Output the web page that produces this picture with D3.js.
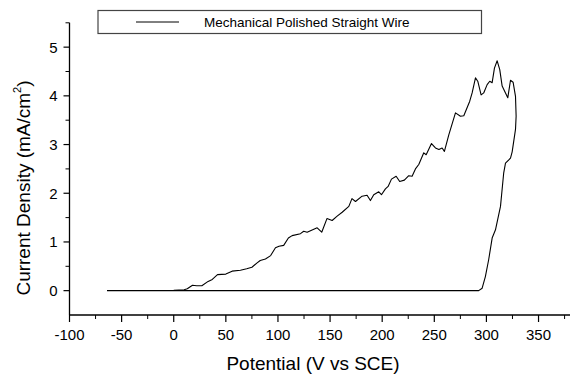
<!DOCTYPE html>
<html>
<head>
<meta charset="utf-8">
<script src="https://cdn.jsdelivr.net/npm/d3@7"></script>
<style>
    body { margin: 0; background: #fff; }
    text { font-family: "Liberation Sans", Arial, sans-serif; fill: #000; }
</style>
</head>
<body>
<svg id="chart" width="570" height="375"></svg>
<script>
// forward scan (rising current)
var forwardV = [-64, -20, 0, 10, 13, 18, 22, 27, 33, 37, 42, 50, 56, 64, 70, 75, 80, 83, 88, 93,
    97.6, 101, 105.5, 110, 113.6, 121.6, 124.7, 128, 137.6, 142, 147, 152, 156.8, 161.6, 168, 171,
    174.4, 180.7, 185.5, 188.7, 191.9, 196.7, 199.3, 203.1, 205.7, 208.9, 213.4, 216.8, 221.3,
    225.5, 228.7, 231.9, 235.1, 239.9, 242.2, 247.3, 251.1, 254.4, 257.5, 259.7, 263.9, 270.3,
    275.1, 278.3, 284, 286.3, 289.5, 291.7, 294.9, 297.4, 300.7, 303.2, 305.5, 307.7, 310.3,
    312.8, 315.1, 318.3, 320.5, 323.1, 325.6, 327.9, 328.5];
var forwardI = [0, 0, 0.005, 0.02, 0.04, 0.11, 0.1, 0.1, 0.19, 0.23, 0.33, 0.34, 0.4, 0.42, 0.45,
    0.48, 0.57, 0.62, 0.65, 0.72, 0.88, 0.91, 0.93, 1.08, 1.13, 1.17, 1.22, 1.2, 1.29, 1.2, 1.48,
    1.44, 1.53, 1.61, 1.73, 1.89, 1.83, 1.94, 1.96, 1.85, 1.97, 2.03, 1.97, 2.09, 2.14, 2.29, 2.35,
    2.24, 2.27, 2.36, 2.35, 2.5, 2.59, 2.83, 2.79, 3.02, 2.93, 2.9, 2.93, 2.86, 3.2, 3.65, 3.58,
    3.59, 3.89, 4.06, 4.37, 4.3, 4.02, 4.06, 4.23, 4.3, 4.27, 4.57, 4.72, 4.54, 4.2, 4.06, 3.96,
    4.32, 4.28, 3.99, 3.58];
// reverse scan back down
var reverseV = [327.9, 324.7, 323.1, 318.3, 316.6, 313.5, 308.7, 305.5, 302.2, 299, 295.9, 292.6, -64];
var reverseI = [3.31, 2.85, 2.72, 2.62, 2.42, 1.73, 1.25, 1.08, 0.64, 0.29, 0.05, 0, 0];

var xTicks = [-100, -50, 0, 50, 100, 150, 200, 250, 300, 350];
var yTicks = [0, 1, 2, 3, 4, 5];
var legendLabel = "Mechanical Polished Straight Wire";

var points = [];
for (var i = 0; i < forwardV.length; i++) points.push([forwardV[i], forwardI[i]]);
for (var j = 0; j < reverseV.length; j++) points.push([reverseV[j], reverseI[j]]);

var svg = d3.select("#chart");
var x = d3.scaleLinear().domain([-100, 380]).range([69.5, 569.8]);
var y = d3.scaleLinear().domain([-0.5, 5.5]).range([315, 22.8]);

// x axis
var xAxis = svg.append("g").attr("transform", "translate(0,315)");
xAxis.append("line").attr("x1", 69.5).attr("x2", 570).attr("stroke", "#000").attr("stroke-width", 1.3);
xAxis.selectAll(".minor").data(d3.range(-75, 380, 50)).enter().append("line")
    .attr("x1", x).attr("x2", x).attr("y1", 0).attr("y2", 4)
    .attr("stroke", "#000").attr("stroke-width", 1);
xAxis.selectAll(".major").data(xTicks).enter().append("line")
    .attr("x1", x).attr("x2", x).attr("y1", 0).attr("y2", 7)
    .attr("stroke", "#000").attr("stroke-width", 1.2);
xAxis.selectAll("text").data(xTicks).enter().append("text")
    .attr("x", x).attr("y", 25).attr("text-anchor", "middle")
    .style("font-size", "15px").text(function (d) { return d; });

// y axis
var yAxis = svg.append("g").attr("transform", "translate(69.5,0)");
yAxis.append("line").attr("y1", 22.8).attr("y2", 315).attr("stroke", "#000").attr("stroke-width", 1.3);
yAxis.selectAll(".minor").data(d3.range(0.5, 5.6, 1)).enter().append("line")
    .attr("y1", y).attr("y2", y).attr("x1", 0).attr("x2", -4)
    .attr("stroke", "#000").attr("stroke-width", 1);
yAxis.selectAll(".major").data(yTicks).enter().append("line")
    .attr("y1", y).attr("y2", y).attr("x1", 0).attr("x2", -6)
    .attr("stroke", "#000").attr("stroke-width", 1.2);
yAxis.selectAll("text").data(yTicks).enter().append("text")
    .attr("x", -12).attr("y", function (d) { return y(d) + 5.5; }).attr("text-anchor", "end")
    .style("font-size", "15px").text(function (d) { return d; });

// titles
svg.append("text").attr("x", 313).attr("y", 370).attr("text-anchor", "middle")
    .style("font-size", "19px").text("Potential (V vs SCE)");
var yt = svg.append("text").attr("transform", "translate(30,188) rotate(-90)")
    .attr("text-anchor", "middle").style("font-size", "19px");
yt.append("tspan").text("Current Density (mA/cm");
yt.append("tspan").attr("dy", -9).style("font-size", "11px").text("2");
yt.append("tspan").attr("dy", 9).text(")");

// curve
svg.append("path").datum(points)
    .attr("d", d3.line().x(function (d) { return x(d[0]); }).y(function (d) { return y(d[1]); }))
    .attr("fill", "none").attr("stroke", "#000").attr("stroke-width", 1.1)
    .attr("stroke-linejoin", "round");

// legend
var lg = svg.append("g");
lg.append("rect").attr("x", 98).attr("y", 10.5).attr("width", 383.5).attr("height", 23)
    .attr("fill", "#fff").attr("stroke", "#444").attr("stroke-width", 1.2);
lg.append("line").attr("x1", 136).attr("x2", 179).attr("y1", 22).attr("y2", 22)
    .attr("stroke", "#000").attr("stroke-width", 1);
lg.append("text").attr("x", 204).attr("y", 27).style("font-size", "13.5px").text(legendLabel);
</script>
</body>
</html>
